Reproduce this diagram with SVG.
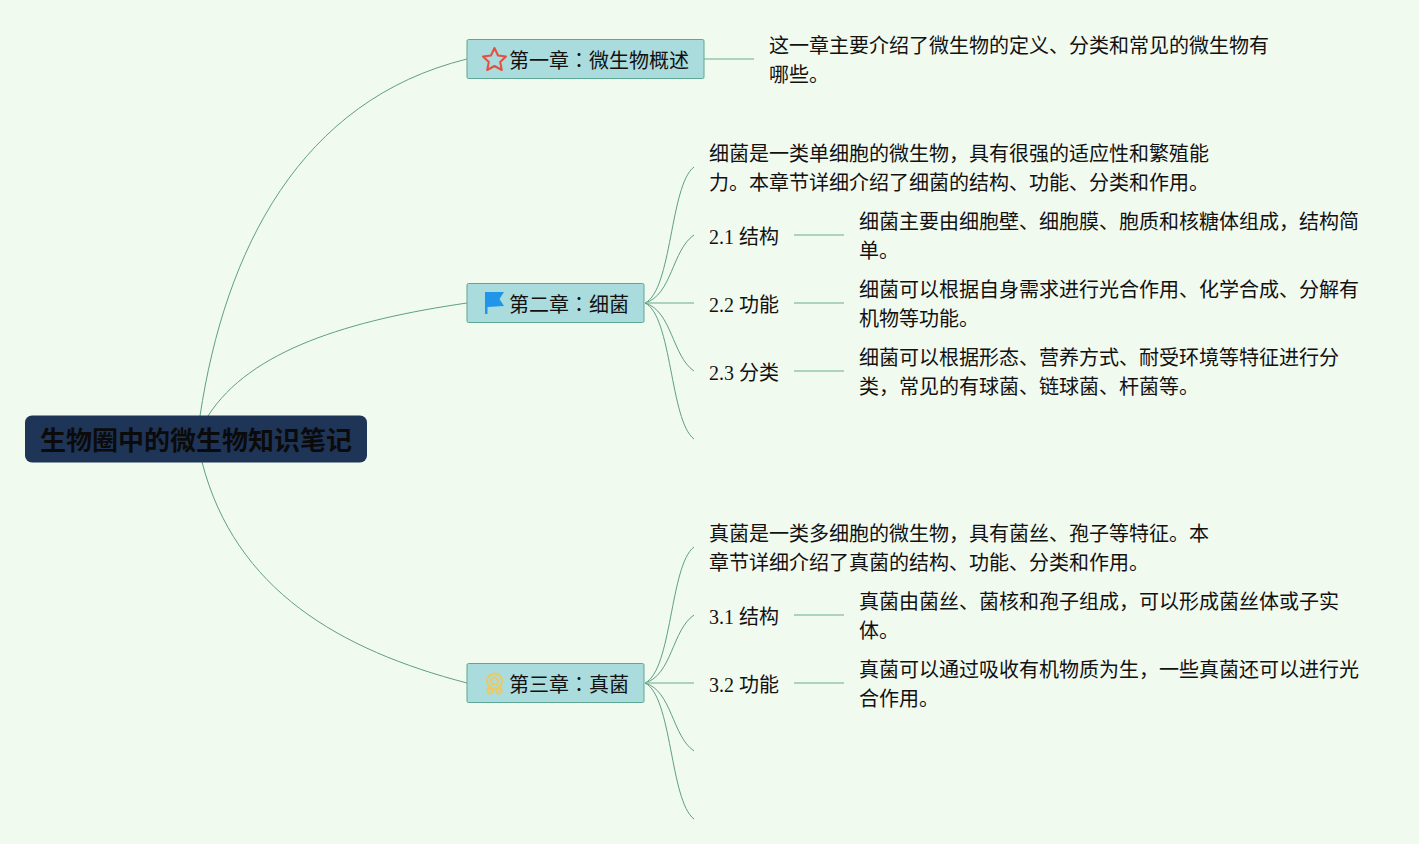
<svg xmlns="http://www.w3.org/2000/svg" width="1419" height="844" viewBox="0 0 1419 844">
<style>
text{font-family:"Liberation Serif","Noto Sans CJK SC",serif;font-size:20px;fill:#111}
.b{fill:#aadbdd;stroke:#5ea792;stroke-width:1}
.c{fill:none;stroke:#5f9f85;stroke-width:1}
.l{fill:none;stroke:#97c5b0;stroke-width:1.5}
.r{font-family:"Liberation Sans","Noto Sans CJK SC",sans-serif;font-size:26px;font-weight:bold;fill:#0b0b0b}
.k{font-family:"Noto Sans CJK TC",sans-serif}
</style>
<rect width="1419" height="844" fill="#f1faef"/>
<g id="connectors">
<path class="c" d="M200 416C225 250 300 100 467 59"/>
<path class="c" d="M208 416C250 350 350 320 467 303"/>
<path class="c" d="M202 462C235 590 340 650 467 683"/>
<path class="l" d="M704 59H754"/>
<path class="c" d="M645 303C672 290 670 185 694 167"/>
<path class="c" d="M645 303C672 295 672 250 694 235"/>
<path class="l" d="M645 303H694"/>
<path class="c" d="M645 303C672 311 672 356 694 371"/>
<path class="c" d="M645 303C672 316 670 421 694 439"/>
<path class="l" d="M794 235H844"/>
<path class="l" d="M794 303H844"/>
<path class="l" d="M794 371H844"/>
<path class="c" d="M645 683C672 670 670 565 694 547"/>
<path class="c" d="M645 683C672 675 672 630 694 615"/>
<path class="l" d="M645 683H694"/>
<path class="c" d="M645 683C672 691 672 736 694 751"/>
<path class="c" d="M645 683C672 696 670 801 694 819"/>
<path class="l" d="M794 615H844"/>
<path class="l" d="M794 683H844"/>
</g>
<g id="root"><rect x="25" y="415.500" width="342" height="47" rx="7" fill="#1f3557"/><text class="r" x="196" y="450" text-anchor="middle">生物圈中的微生物知识笔记</text></g>
<g id="ch1"><rect class="b" x="467" y="39.500" width="237" height="39" rx="1.500"/>
<path d="M494.500 48L498 55.500L506 56.500L500.200 62L501.800 70L494.500 66L487.200 70L488.800 62L483 56.500L491 55.500Z" fill="none" stroke="#e2503f" stroke-width="2" stroke-linejoin="round"/>
<text x="509" y="68">第一章<tspan class="k">：</tspan>微生物概述</text></g>
<g id="ch1-note"><text x="769" y="53">这一章主要介绍了微生物的定义、分类和常见的微生物有</text><text x="769" y="82">哪些。</text></g>
<g id="ch2"><rect class="b" x="467" y="283.500" width="177" height="39" rx="1.500"/>
<path d="M485 292H504L499.500 299L504 306L487.500 307V314H485Z" fill="#2196e8"/>
<text x="509" y="312">第二章<tspan class="k">：</tspan>细菌</text></g>
<g id="ch2-note"><text x="709" y="161">细菌是一类单细胞的微生物，具有很强的适应性和繁殖能</text><text x="709" y="190">力。本章节详细介绍了细菌的结构、功能、分类和作用。</text></g>
<g id="n21"><text x="709" y="244">2.1 结构</text></g>
<g id="n21-note"><text x="859" y="229">细菌主要由细胞壁、细胞膜、胞质和核糖体组成，结构简</text><text x="859" y="258">单。</text></g>
<g id="n22"><text x="709" y="312">2.2 功能</text></g>
<g id="n22-note"><text x="859" y="297">细菌可以根据自身需求进行光合作用、化学合成、分解有</text><text x="859" y="326">机物等功能。</text></g>
<g id="n23"><text x="709" y="380">2.3 分类</text></g>
<g id="n23-note"><text x="859" y="365">细菌可以根据形态、营养方式、耐受环境等特征进行分</text><text x="859" y="394">类，常见的有球菌、链球菌、杆菌等。</text></g>
<g id="ch3"><rect class="b" x="467" y="663.500" width="177" height="39" rx="1.500"/>
<g fill="none" stroke="#eec95e" stroke-width="2"><circle cx="494.500" cy="681" r="7.500"/><circle cx="494.500" cy="681" r="3.500"/><path d="M489 688L488 690M500 688L501 690" stroke-width="3"/><circle cx="490" cy="691" r="2.500"/><circle cx="499" cy="691" r="2.500"/></g>
<text x="509" y="692">第三章<tspan class="k">：</tspan>真菌</text></g>
<g id="ch3-note"><text x="709" y="541">真菌是一类多细胞的微生物，具有菌丝、孢子等特征。本</text><text x="709" y="570">章节详细介绍了真菌的结构、功能、分类和作用。</text></g>
<g id="n31"><text x="709" y="624">3.1 结构</text></g>
<g id="n31-note"><text x="859" y="609">真菌由菌丝、菌核和孢子组成，可以形成菌丝体或子实</text><text x="859" y="638">体。</text></g>
<g id="n32"><text x="709" y="692">3.2 功能</text></g>
<g id="n32-note"><text x="859" y="677">真菌可以通过吸收有机物质为生，一些真菌还可以进行光</text><text x="859" y="706">合作用。</text></g>
</svg>
